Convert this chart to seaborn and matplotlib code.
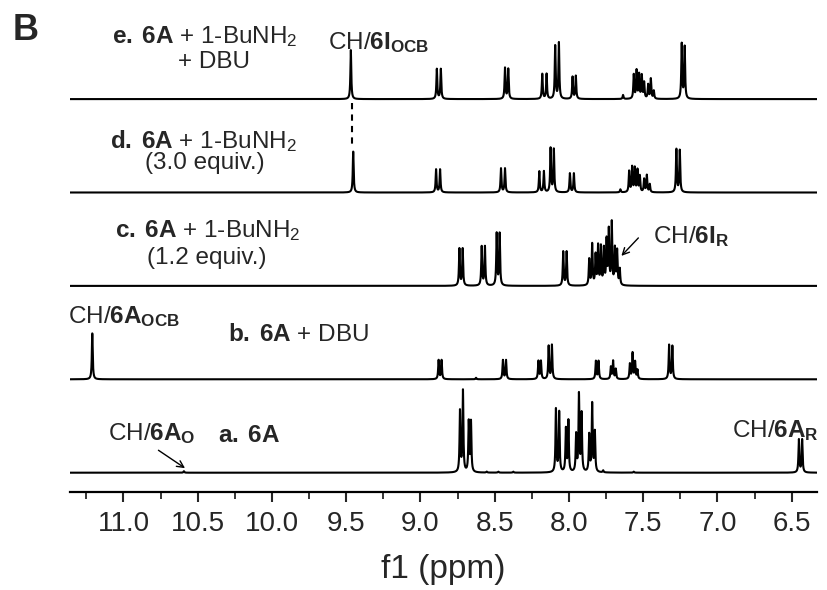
import numpy as np
import pandas as pd
import matplotlib
matplotlib.use("Agg")
import matplotlib.pyplot as plt
import seaborn as sns

# ---------------- data (ppm, relative intensity) ----------------
a_ppm = [10.593, 8.734, 8.714, 8.675, 8.660, 8.554, 8.476, 8.375,
         8.088, 8.066, 8.021, 8.004, 7.952, 7.933, 7.915, 7.864, 7.844, 7.826,
         7.770, 7.564, 6.452, 6.430]
a_int = [1.5, 61, 81, 50, 50, 1, 1, 1,
         63, 60, 43, 51, 37, 77, 58, 37, 68, 40,
         2, 1, 33, 33]

b_ppm = [11.21, 8.878, 8.858, 8.626, 8.445, 8.424, 8.206, 8.189, 8.137, 8.115,
         7.819, 7.801, 7.718, 7.703, 7.685, 7.590, 7.572, 7.555, 7.539, 7.326, 7.304]
b_int = [46, 19, 19, 1.5, 19, 19, 18, 18, 33, 34,
         18, 18, 12, 18, 10, 15, 26, 17, 9, 34, 33]

c_ppm = [8.738, 8.716, 8.588, 8.566, 8.487, 8.467, 8.039, 8.016,
         7.864, 7.844, 7.821, 7.804, 7.785, 7.765, 7.747, 7.732, 7.712, 7.691, 7.676, 7.658]
c_int = [37, 37, 39, 39, 52, 52, 34, 34,
         26, 41, 30, 39, 38, 36, 44, 54, 62, 36, 34, 16]

d_ppm = [9.453, 8.895, 8.868, 8.458, 8.431, 8.200, 8.169, 8.124, 8.102, 7.994, 7.967,
         7.654, 7.595, 7.575, 7.557, 7.539, 7.523, 7.494, 7.476, 7.456, 7.277, 7.254]
d_int = [41, 23, 23, 24, 24, 21, 21, 44, 43, 19, 19,
         3, 21, 25, 24, 22, 16, 13, 17, 8, 43, 42]

e_ppm = [9.469, 8.890, 8.863, 8.431, 8.409, 8.180, 8.151, 8.093, 8.068, 7.976, 7.954,
         7.636, 7.564, 7.545, 7.528, 7.510, 7.494, 7.467, 7.449, 7.429, 7.241, 7.221]
e_int = [49, 30, 30, 31, 30, 25, 25, 53, 56, 22, 23,
         4, 24, 28, 24, 23, 16, 14, 20, 8, 55, 52]

traces = ["a", "b", "c", "d", "e"]
peak_table = {"a": (a_ppm, a_int), "b": (b_ppm, b_int), "c": (c_ppm, c_int),
              "d": (d_ppm, d_int), "e": (e_ppm, e_int)}

x_ticks = [11.0, 10.5, 10.0, 9.5, 9.0, 8.5, 8.0, 7.5, 7.0, 6.5]
x_tick_labels = ["11.0", "10.5", "10.0", "9.5", "9.0", "8.5", "8.0", "7.5", "7.0", "6.5"]

# ---------------- layout / style ----------------
W, H = 827, 590
XLIM = (11.36, 6.33)
STACK = 93.4          # vertical spacing between stacked spectra
LW_PPM = 0.0035       # Lorentzian half width used to render lines

sns.set_theme(style="white")
plt.rcParams['font.family'] = ['Liberation Sans', 'DejaVu Sans']
plt.rcParams['mathtext.fontset'] = 'custom'
plt.rcParams['mathtext.rm'] = 'Liberation Sans'
plt.rcParams['mathtext.bf'] = 'Liberation Sans:bold'
plt.rcParams['mathtext.it'] = 'Liberation Sans:italic'

grid = np.linspace(XLIM[0], XLIM[1], 14000)


def render(ppm_list, int_list):
    p = np.asarray(ppm_list)[:, None]
    h = np.asarray(int_list)[:, None]
    return (h * LW_PPM ** 2 / ((grid - p) ** 2 + LW_PPM ** 2)).sum(axis=0)


frames = []
for i, t in enumerate(traces):
    pp, ii = peak_table[t]
    frames.append(pd.DataFrame({"ppm": grid, "signal": render(pp, ii) + i * STACK, "trace": t}))
df = pd.concat(frames, ignore_index=True)

fig = plt.figure(figsize=(W / 100, H / 100), dpi=100)
ax = fig.add_axes([70 / W, 1 - 492 / H, (817 - 70) / W, 492 / H])
for t in traces:
    sns.lineplot(data=df[df.trace == t], x="ppm", y="signal", ax=ax, color="black",
                 lw=1.5, estimator=None, sort=False, legend=False)

ax.set_xlim(*XLIM)
ax.set_ylim(-19.3, 472.7)
for s in ["top", "left", "right"]:
    ax.spines[s].set_visible(False)
ax.spines["bottom"].set_linewidth(1.6)
ax.spines["bottom"].set_color("black")
ax.set_yticks([])
ax.set_ylabel("")
ax.set_xticks(x_ticks)
ax.set_xticklabels(x_tick_labels, fontsize=20)
ax.set_xticks([v - 0.25 for v in x_ticks[:-1]] + [11.25], minor=True)
ax.tick_params(axis="x", which="major", direction="out", length=7, width=1.5, pad=7, bottom=True)
ax.tick_params(axis="x", which="minor", direction="out", length=5, width=1.3, bottom=True)
ax.set_xlabel("f1 (ppm)", fontsize=24, labelpad=12)

# dashed connector between e and d
ax.plot([9.46, 9.46], [4 * STACK - 4, 3 * STACK + 45], color="black", lw=1.5,
        ls=(0, (3, 2.5)))


def ftext(x, y, s, size=17.5, **kw):
    fig.text(x / W, 1 - y / H, s, fontsize=size, va="center", **kw)


ftext(13, 31, "B", size=26, fontweight="bold")
ftext(112, 37, r"$\mathbf{e.\;6A}$ + 1-BuNH$_2$")
ftext(178, 62, "+ DBU")
ftext(328, 43, r"CH/$\mathbf{6I_{OCB}}$")
ftext(110, 141, r"$\mathbf{d.\;6A}$ + 1-BuNH$_2$")
ftext(145, 163, "(3.0 equiv.)")
ftext(115, 231, r"$\mathbf{c.\;6A}$ + 1-BuNH$_2$")
ftext(147, 258, "(1.2 equiv.)")
ftext(653, 237, r"CH/$\mathbf{6I_R}$")
ftext(68, 317, r"CH/$\mathbf{6A_{OCB}}$")
ftext(228, 335, r"$\mathbf{b.\;6A}$ + DBU")
ftext(108, 434, r"CH/$\mathbf{6A_O}$")
ftext(218, 436, r"$\mathbf{a.\;6A}$")
ftext(732, 431, r"CH/$\mathbf{6A_R}$")

ax.annotate("", xy=(7.66, 2 * STACK + 28), xytext=(7.52, 2 * STACK + 50),
            arrowprops=dict(arrowstyle="->", lw=1.0, color="black"))
ax.annotate("", xy=(10.57, 3), xytext=(10.78, 24),
            arrowprops=dict(arrowstyle="->", lw=1.0, color="black"))

fig.savefig("out.png", dpi=100)
